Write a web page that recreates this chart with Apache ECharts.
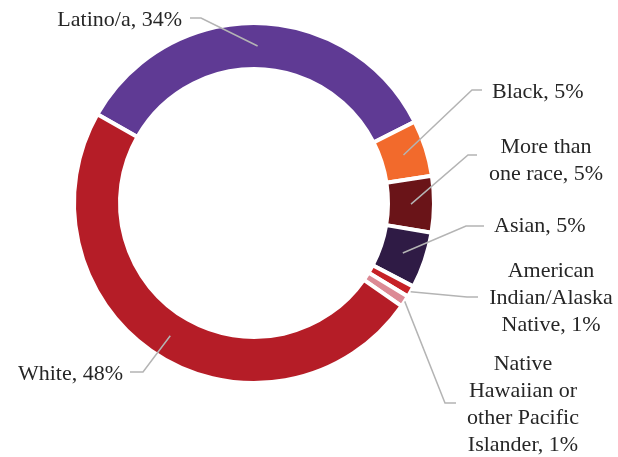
<!DOCTYPE html>
<html>
<head>
<meta charset="utf-8">
<script src="https://cdn.jsdelivr.net/npm/echarts@6/dist/echarts.min.js"></script>
<style>
  html, body { margin: 0; padding: 0; background: #ffffff; }
  #chart { width: 618px; height: 457px; }
</style>
</head>
<body>
<div id="chart"></div>
<script>
// Race / ethnicity shares, drawn clockwise from the upper left
const categories = [
  'Latino/a',
  'Black',
  'More than one race',
  'Asian',
  'American Indian/Alaska Native',
  'Native Hawaiian or other Pacific Islander',
  'White'
];
const shares = [34, 5, 5, 5, 1, 1, 48];
const labelLines = [
  'Latino/a, 34%',
  'Black, 5%',
  'More than\none race, 5%',
  'Asian, 5%',
  'American\nIndian/Alaska\nNative, 1%',
  'Native\nHawaiian or\nother Pacific\nIslander, 1%',
  'White, 48%'
];
const sliceColors = ['#5f3a94', '#f26a2c', '#6a1418', '#2f1b45', '#c62126', '#dc8a95', '#b51d27'];

// Ring geometry and label placement (text anchor, leader elbow/end, leader start radius)
const CENTER = [254, 203];
const RADIUS = [134, 180];
const START_ANGLE = 150.5;
const labelPlacement = [
  { x: 182, y: 20,  align: 'right',  elbow: [201, 18],  end: [190, 18],  r: 157 },
  { x: 492, y: 92,  align: 'left',   elbow: [472, 90],  end: [482, 90],  r: 157 },
  { x: 546, y: 161, align: 'center', elbow: [468, 155], end: [477, 155], r: 157 },
  { x: 494, y: 226, align: 'left',   elbow: [466, 226], end: [484, 226], r: 157 },
  { x: 551, y: 298, align: 'center', elbow: [467, 297], end: [478, 297], r: 180 },
  { x: 523, y: 405, align: 'center', elbow: [445, 403], end: [456, 403], r: 180 },
  { x: 123, y: 374, align: 'right',  elbow: [143, 372], end: [130, 372], r: 157 }
];

// Leader lines start inside each slice, at its middle angle
const total = shares.reduce((a, b) => a + b, 0);
let running = 0;
const leaders = shares.map((v, i) => {
  const mid = START_ANGLE - (running + v / 2) / total * 360;
  running += v;
  const rad = mid * Math.PI / 180;
  const cfg = labelPlacement[i];
  const start = [CENTER[0] + cfg.r * Math.cos(rad), CENTER[1] - cfg.r * Math.sin(rad)];
  return {
    type: 'polyline',
    z: 100,
    silent: true,
    shape: { points: [start, cfg.elbow, cfg.end] },
    style: { stroke: '#b4b4b4', lineWidth: 1.5, fill: null }
  };
});

const chart = echarts.init(document.getElementById('chart'), null, { renderer: 'canvas' });

chart.setOption({
  animation: false,
  backgroundColor: '#ffffff',
  graphic: { elements: leaders },
  series: [{
    type: 'pie',
    center: CENTER,
    radius: RADIUS,
    startAngle: START_ANGLE,
    clockwise: true,
    avoidLabelOverlap: false,
    itemStyle: { borderColor: '#ffffff', borderWidth: 4 },
    label: {
      show: true,
      formatter: p => labelLines[p.dataIndex],
      fontFamily: '"Liberation Serif", "Times New Roman", serif',
      fontSize: 22,
      lineHeight: 27,
      color: '#262626'
    },
    labelLine: { show: false },
    labelLayout: params => {
      const cfg = labelPlacement[params.dataIndex];
      return { x: cfg.x, y: cfg.y, align: cfg.align, verticalAlign: 'middle' };
    },
    data: categories.map((name, i) => ({
      name: name,
      value: shares[i],
      itemStyle: { color: sliceColors[i] }
    }))
  }]
});
</script>
</body>
</html>
